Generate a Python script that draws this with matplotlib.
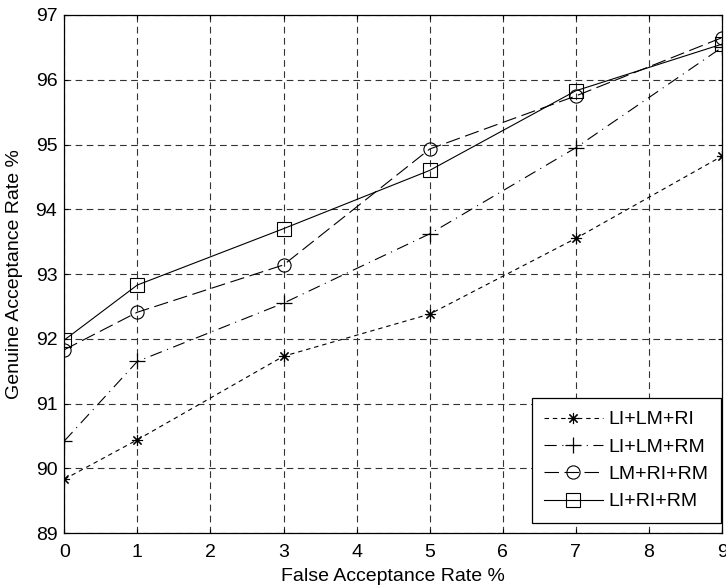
import matplotlib
matplotlib.use('Agg')
import matplotlib.pyplot as plt

# data
far = [0, 1, 3, 5, 7, 9]
li_lm_ri = [89.83, 90.44, 91.73, 92.38, 93.55, 94.82]
li_lm_rm = [90.42, 91.65, 92.55, 93.62, 94.95, 96.50]
lm_ri_rm = [91.83, 92.41, 93.14, 94.93, 95.75, 96.65]
li_ri_rm = [91.98, 92.83, 93.70, 94.60, 95.83, 96.55]

plt.rcParams['font.family'] = ['Liberation Sans', 'DejaVu Sans']
fs = 14

fig = plt.figure(figsize=(7.26, 5.88), dpi=100)
ax = fig.add_axes((0.0885, 0.0935, 0.906, 0.881))

lw = 0.8
ax.plot(far, li_lm_ri, color='k', linestyle=(0, (4, 3.5)), marker=(8, 2, 0), markersize=8,
        markeredgewidth=0.8, linewidth=lw, label='LI+LM+RI')
ax.plot(far, li_lm_rm, color='k', linestyle=(0, (11, 5, 1, 5)), marker='+', markersize=11,
        markeredgewidth=0.9, linewidth=lw, label='LI+LM+RM')
ax.plot(far, lm_ri_rm, color='k', linestyle=(0, (13, 5)), marker='o', markersize=9.5,
        markerfacecolor='none', markeredgewidth=0.8, linewidth=lw, label='LM+RI+RM')
ax.plot(far, li_ri_rm, color='k', linestyle='-', marker='s', markersize=9.5,
        markerfacecolor='none', markeredgewidth=0.8, linewidth=lw, label='LI+RI+RM')

ax.set_xlim(0, 9)
ax.set_ylim(89, 97)
ax.set_xticks(range(0, 10))
ax.set_yticks(range(89, 98))
ax.grid(True, color='#333333', linestyle=(0, (6, 4)), linewidth=0.8)
ax.tick_params(direction='in', top=True, right=True, length=3, labelsize=fs)
ax.tick_params(axis='x', pad=8)
ax.tick_params(axis='y', pad=5)
for s in ax.spines.values():
    s.set_linewidth(0.9)

ax.set_xlabel('False Acceptance Rate %', fontsize=fs, labelpad=5)
ax.set_ylabel('Genuine Acceptance Rate %', fontsize=fs, labelpad=9)

leg = ax.legend(loc='lower right', bbox_to_anchor=(721 / 726, 1 - 523 / 588),
                bbox_transform=fig.transFigure, fontsize=fs, frameon=True,
                fancybox=False, edgecolor='k', framealpha=1, handlelength=3.0,
                handletextpad=0.3, borderaxespad=0, labelspacing=0.5, borderpad=0.65)
leg.get_frame().set_linewidth(0.9)

fig.savefig('out.png', dpi=100)
